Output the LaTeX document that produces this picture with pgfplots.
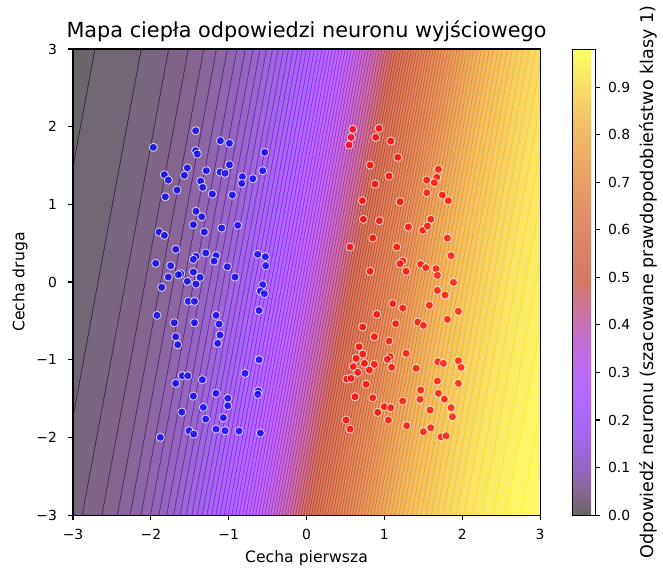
\documentclass[border=0pt]{standalone}
\usepackage{fontspec}
\setmainfont{DejaVu Sans}
\usepackage{pgfplots}
\pgfplotsset{compat=1.18}
\pgfplotsset{
 colormap={gnuopaque}{rgb=(0,0,0) rgb=(0.224,0.000,0.309) rgb=(0.316,0.001,0.588) rgb=(0.387,0.003,0.809) rgb=(0.447,0.008,0.951) rgb=(0.500,0.016,1.000) rgb=(0.548,0.027,0.951) rgb=(0.592,0.043,0.809) rgb=(0.632,0.064,0.588) rgb=(0.671,0.091,0.309) rgb=(0.707,0.125,0) rgb=(0.742,0.166,0) rgb=(0.775,0.216,0) rgb=(0.806,0.275,0) rgb=(0.837,0.343,0) rgb=(0.866,0.422,0) rgb=(0.894,0.512,0) rgb=(0.922,0.614,0) rgb=(0.949,0.729,0) rgb=(0.975,0.857,0) rgb=(1,1,0)},
 colormap={gnublend}{rgb=(0.400,0.400,0.400) rgb=(0.534,0.400,0.585) rgb=(0.590,0.401,0.753) rgb=(0.632,0.402,0.885) rgb=(0.668,0.405,0.971) rgb=(0.700,0.409,1.000) rgb=(0.729,0.416,0.971) rgb=(0.755,0.426,0.885) rgb=(0.779,0.438,0.753) rgb=(0.803,0.455,0.585) rgb=(0.824,0.475,0.400) rgb=(0.845,0.500,0.400) rgb=(0.865,0.530,0.400) rgb=(0.884,0.565,0.400) rgb=(0.902,0.606,0.400) rgb=(0.920,0.653,0.400) rgb=(0.937,0.707,0.400) rgb=(0.953,0.768,0.400) rgb=(0.969,0.837,0.400) rgb=(0.985,0.914,0.400) rgb=(1.000,1.000,0.400)},
}
\pgfplotstableread{
x y v
-5.935 -3 0.00
-3.829 -3 0.01
-3.233 -3 0.02
-2.881 -3 0.03
-2.628 -3 0.04
-2.430 -3 0.05
-2.267 -3 0.06
-2.127 -3 0.07
-2.005 -3 0.08
-1.896 -3 0.09
-1.797 -3 0.10
-1.707 -3 0.11
-1.624 -3 0.12
-1.546 -3 0.13
-1.473 -3 0.14
-1.405 -3 0.15
-1.340 -3 0.16
-1.279 -3 0.17
-1.220 -3 0.18
-1.164 -3 0.19
-1.110 -3 0.20
-1.058 -3 0.21
-1.008 -3 0.22
-0.959 -3 0.23
-0.912 -3 0.24
-0.866 -3 0.25
-0.821 -3 0.26
-0.778 -3 0.27
-0.735 -3 0.28
-0.694 -3 0.29
-0.653 -3 0.30
-0.613 -3 0.31
-0.574 -3 0.32
-0.535 -3 0.33
-0.497 -3 0.34
-0.460 -3 0.35
-0.423 -3 0.36
-0.386 -3 0.37
-0.350 -3 0.38
-0.314 -3 0.39
-0.279 -3 0.40
-0.244 -3 0.41
-0.209 -3 0.42
-0.174 -3 0.43
-0.139 -3 0.44
-0.105 -3 0.45
-0.071 -3 0.46
-0.037 -3 0.47
-0.003 -3 0.48
0.031 -3 0.49
0.065 -3 0.50
0.099 -3 0.51
0.133 -3 0.52
0.167 -3 0.53
0.201 -3 0.54
0.235 -3 0.55
0.269 -3 0.56
0.304 -3 0.57
0.339 -3 0.58
0.374 -3 0.59
0.409 -3 0.60
0.444 -3 0.61
0.480 -3 0.62
0.516 -3 0.63
0.553 -3 0.64
0.590 -3 0.65
0.627 -3 0.66
0.665 -3 0.67
0.704 -3 0.68
0.743 -3 0.69
0.783 -3 0.70
0.824 -3 0.71
0.865 -3 0.72
0.908 -3 0.73
0.951 -3 0.74
0.996 -3 0.75
1.042 -3 0.76
1.089 -3 0.77
1.138 -3 0.78
1.188 -3 0.79
1.240 -3 0.80
1.294 -3 0.81
1.350 -3 0.82
1.409 -3 0.83
1.470 -3 0.84
1.535 -3 0.85
1.603 -3 0.86
1.676 -3 0.87
1.754 -3 0.88
1.837 -3 0.89
1.927 -3 0.90
2.026 -3 0.91
2.135 -3 0.92
2.257 -3 0.93
2.397 -3 0.94
2.560 -3 0.95
2.758 -3 0.96
3.011 -3 0.97
3.363 -3 0.98
3.959 -3 0.99
6.065 -3 1.00
-4.825 3 0.00
-2.719 3 0.01
-2.123 3 0.02
-1.771 3 0.03
-1.518 3 0.04
-1.320 3 0.05
-1.157 3 0.06
-1.017 3 0.07
-0.895 3 0.08
-0.786 3 0.09
-0.687 3 0.10
-0.597 3 0.11
-0.514 3 0.12
-0.436 3 0.13
-0.363 3 0.14
-0.295 3 0.15
-0.230 3 0.16
-0.169 3 0.17
-0.110 3 0.18
-0.054 3 0.19
0.000 3 0.20
0.052 3 0.21
0.102 3 0.22
0.151 3 0.23
0.198 3 0.24
0.244 3 0.25
0.289 3 0.26
0.332 3 0.27
0.375 3 0.28
0.416 3 0.29
0.457 3 0.30
0.497 3 0.31
0.536 3 0.32
0.575 3 0.33
0.613 3 0.34
0.650 3 0.35
0.687 3 0.36
0.724 3 0.37
0.760 3 0.38
0.796 3 0.39
0.831 3 0.40
0.866 3 0.41
0.901 3 0.42
0.936 3 0.43
0.971 3 0.44
1.005 3 0.45
1.039 3 0.46
1.073 3 0.47
1.107 3 0.48
1.141 3 0.49
1.175 3 0.50
1.209 3 0.51
1.243 3 0.52
1.277 3 0.53
1.311 3 0.54
1.345 3 0.55
1.379 3 0.56
1.414 3 0.57
1.449 3 0.58
1.484 3 0.59
1.519 3 0.60
1.554 3 0.61
1.590 3 0.62
1.626 3 0.63
1.663 3 0.64
1.700 3 0.65
1.737 3 0.66
1.775 3 0.67
1.814 3 0.68
1.853 3 0.69
1.893 3 0.70
1.934 3 0.71
1.975 3 0.72
2.018 3 0.73
2.061 3 0.74
2.106 3 0.75
2.152 3 0.76
2.199 3 0.77
2.248 3 0.78
2.298 3 0.79
2.350 3 0.80
2.404 3 0.81
2.460 3 0.82
2.519 3 0.83
2.580 3 0.84
2.645 3 0.85
2.713 3 0.86
2.786 3 0.87
2.864 3 0.88
2.947 3 0.89
3.037 3 0.90
3.136 3 0.91
3.245 3 0.92
3.367 3 0.93
3.507 3 0.94
3.670 3 0.95
3.868 3 0.96
4.121 3 0.97
4.473 3 0.98
5.069 3 0.99
7.175 3 1.00
}\fieldtable
\newcommand{\tickfont}{\fontsize{10.3}{12}\selectfont}
\newcommand{\labfont}{\fontsize{11.6}{14}\selectfont}
\begin{document}
\begin{tikzpicture}
\begin{axis}[name=ax, scale only axis, width=346pt, height=345.3pt,
 xmin=-3, xmax=3, ymin=-3, ymax=3,
 xtick={-3,-2,-1,0,1,2,3}, ytick={-3,-2,-1,0,1,2,3},
 xticklabels={−3,−2,−1,0,1,2,3}, yticklabels={−3,−2,−1,0,1,2,3},
 tick pos=left, tick align=outside, major tick length=3.6pt,
 every tick/.style={black, line width=0.8pt},
 axis line style={line width=0.8pt},
 xticklabel style={font=\tickfont, anchor=north, inner sep=0pt, yshift=-6.7pt},
 yticklabel style={font=\tickfont, anchor=east, inner sep=0pt, xshift=-8.1pt},
 axis on top,
 colormap name=gnublend,
 point meta min=0, point meta max=0.98,
 title={Mapa ciepła odpowiedzi neuronu wyjściowego},
 every axis title/.style={at={(axis description cs:0.5,1.0246)}, anchor=base, font=\fontsize{15.4}{18}\selectfont},
 xlabel={Cecha pierwsza},
 every axis x label/.style={at={(axis description cs:0.5,-0.1008)}, anchor=base, font=\labfont},
 ylabel={Cecha druga},
 every axis y label/.style={at={(axis description cs:-0.1136,0.5)}, rotate=90, anchor=center, font=\labfont},
 colorbar,
 colorbar shift/.style={xshift=23.7pt},
 colorbar style={
   at={(parent axis.north east)}, anchor=north west,
   scale only axis, width=17pt, height=345.3pt,
   xtick=\empty,
   ymin=0, ymax=0.98,
   ytick={0,0.1,0.2,0.3,0.4,0.5,0.6,0.7,0.8,0.9},
   yticklabels={0.0,0.1,0.2,0.3,0.4,0.5,0.6,0.7,0.8,0.9},
   yticklabel pos=right, ytick pos=right,
   tick align=outside, major tick length=3.6pt,
   yticklabel style={font=\tickfont, anchor=west, inner sep=0pt, xshift=5.9pt},
   ylabel={Odpowiedź neuronu (szacowane prawdopodobieństwo klasy 1)},
   every axis y label/.style={at={(axis description cs:3.33,0.5)}, rotate=90, anchor=center, font=\fontsize{13}{15}\selectfont},
 },
]
\addplot[surf, shader=faceted, faceted color=mapped color, colormap name=gnuopaque,
  opacity=0.6, line width=0.3pt, mesh/cols=101, point meta=explicit]
  table[x=x, y=y, meta=v] {\fieldtable};
\addplot[only marks, mark=*, mark size=3pt, mark options={fill=blue, fill opacity=0.72, draw=white, draw opacity=0.75, line width=0.6pt}] coordinates {
(-1.968,1.734) (-1.424,1.948) (-1.107,1.819) (-0.990,1.786) (-1.424,1.691) (-1.403,1.648) (-0.537,1.670) (-1.531,1.468) (-1.827,1.382) (-1.776,1.313) (-1.570,1.374) (-1.287,1.433) (-1.111,1.416) (-1.047,1.400) (-0.990,1.510) (-0.825,1.356) (-0.832,1.270) (-0.691,1.330) (-0.563,1.433) (-1.360,1.300) (-1.334,1.219) (-1.664,1.185) (-1.814,1.098) (-1.210,1.133) (-0.953,1.120) (-1.420,0.911) (-1.346,0.840)
(-1.454,0.738) (-1.313,0.644) (-1.090,0.695) (-0.884,0.730) (-1.895,0.644) (-1.827,0.601) (-1.680,0.421) (-1.420,0.331) (-1.454,0.292) (-1.295,0.374) (-1.163,0.339) (-1.188,0.270) (-1.937,0.241) (-1.745,0.210) (-1.017,0.197) (-0.627,0.357) (-0.529,0.326) (-0.524,0.210) (-1.454,0.129) (-1.616,0.107) (-1.647,0.094) (-1.368,0.060) (-1.776,0.064) (-1.531,0.009) (-1.420,-0.026) (-0.919,0.064) (-1.860,-0.068) (-0.563,-0.035) (-0.593,-0.116) (-0.542,-0.150) (-1.519,-0.249) (-1.440,-0.249) (-0.610,-0.366) (-1.921,-0.429) (-1.163,-0.429) (-1.700,-0.524) (-1.440,-0.524) (-1.124,-0.541)
(-1.680,-0.704) (-1.655,-0.807) (-1.111,-0.682) (-1.141,-0.789) (-0.610,-1.000) (-0.790,-1.176) (-1.596,-1.206) (-1.526,-1.206) (-1.680,-1.304) (-1.339,-1.258) (-1.454,-1.468) (-1.163,-1.433) (-0.619,-1.403) (-0.627,-1.446) (-1.012,-1.497) (-1.012,-1.593) (-1.326,-1.613) (-1.603,-1.674) (-1.069,-1.747) (-1.295,-1.764) (-1.163,-1.893) (-1.047,-1.914) (-0.867,-1.918) (-0.593,-1.944) (-1.510,-1.914) (-1.450,-1.957) (-1.878,-2.000)
};
\addplot[only marks, mark=*, mark size=3pt, mark options={fill=red, fill opacity=0.72, draw=white, draw opacity=0.75, line width=0.6pt}] coordinates {
(0.594,1.966) (0.572,1.863) (0.546,1.764) (0.932,1.979) (0.889,1.863) (1.082,1.815) (1.172,1.606) (0.816,1.506) (1.060,1.365) (0.880,1.262) (1.694,1.451) (1.673,1.348) (1.545,1.313) (1.642,1.279) (1.545,1.150) (1.745,1.120) (1.822,1.047) (0.717,1.047) (1.201,1.034) (0.730,0.807) (0.936,0.789) (1.596,0.807)
(1.308,0.708) (1.493,0.666) (1.553,0.721) (0.851,0.567) (1.809,0.567) (0.559,0.451) (1.159,0.451) (1.857,0.339) (1.236,0.270) (1.201,0.236) (1.467,0.228) (1.532,0.185) (1.664,0.171) (0.816,0.138) (1.279,0.138) (1.681,0.086) (1.887,-0.004) (1.681,-0.107) (1.780,-0.167) (1.108,-0.279) (1.236,-0.335) (1.578,-0.300) (1.951,-0.377) (0.902,-0.416) (1.809,-0.480) (1.146,-0.537) (1.429,-0.515) (1.501,-0.558) (0.722,-0.579)
(0.871,-0.704) (1.060,-0.760) (0.675,-0.833) (0.722,-0.927) (0.636,-0.983) (1.073,-0.962) (1.038,-0.995) (1.279,-0.918) (0.743,-1.047) (0.871,-1.060) (0.601,-1.090) (1.095,-1.098) (0.807,-1.133) (0.658,-1.163) (0.517,-1.249) (0.572,-1.240) (1.407,-1.111) (1.686,-1.026) (1.758,-1.047) (1.951,-1.013) (1.985,-1.098) (1.681,-1.274) (1.951,-1.304) (0.765,-1.317) (1.467,-1.390) (1.694,-1.433) (1.771,-1.506) (1.458,-1.510) (0.623,-1.476) (0.851,-1.490) (1.236,-1.532) (1.000,-1.605) (1.082,-1.618) (0.915,-1.678) (1.051,-1.777) (1.587,-1.648) (1.857,-1.618) (1.874,-1.734) (0.508,-1.777) (0.559,-1.893) (1.287,-1.850) (1.501,-1.927) (1.596,-1.876) (1.728,-1.992) (1.793,-1.979)
};
\end{axis}
\pgfresetboundingbox
\path[use as bounding box] ([shift={(-54.1pt,-41.5pt)}]ax.south west) rectangle ([shift={(437.1pt,381.6pt)}]ax.south west);
\end{tikzpicture}
\end{document}
